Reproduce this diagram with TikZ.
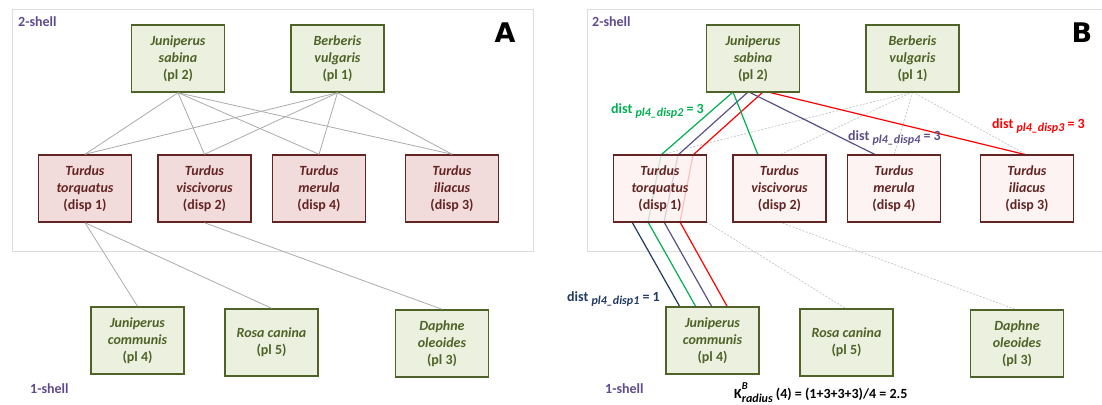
\documentclass[tikz,border=0pt]{standalone}
\usepackage{fontspec}
\setmainfont{Carlito}
\newfontfamily\letterfont{DejaVu Sans}
\usetikzlibrary{calc}
\definecolor{plantFill}{HTML}{EBF1DE}
\definecolor{plantDraw}{HTML}{4F6228}
\definecolor{plantText}{HTML}{4F6228}
\definecolor{birdFillA}{HTML}{F2DCDB}
\definecolor{birdFillB}{HTML}{FCF0F0}
\definecolor{birdDraw}{HTML}{632523}
\definecolor{birdText}{HTML}{632523}
\definecolor{shellC}{HTML}{5F4B8B}
\definecolor{edgeGray}{HTML}{ABABAB}
\definecolor{dashGray}{HTML}{C4C4C4}
\definecolor{frameGray}{HTML}{DCDCDC}
\definecolor{greenL}{HTML}{00B050}
\definecolor{purpleL}{HTML}{5C4F87}
\definecolor{redL}{HTML}{FF0000}
\definecolor{navyL}{HTML}{1F3864}
\tikzset{
  boxfont/.style={font=\fontsize{14}{17}\selectfont\bfseries},
  plantbox/.style={boxfont, draw=plantDraw, line width=1.5pt, fill=plantFill, minimum width=93pt, minimum height=67pt, inner sep=0pt, align=center, text=plantText},
  birdboxA/.style={boxfont, draw=birdDraw, line width=1.5pt, fill=birdFillA, minimum width=93pt, minimum height=67pt, inner sep=0pt, align=center, text=birdText},
  birdboxB/.style={birdboxA, fill=birdFillB, fill opacity=0.8, text opacity=1},
  grayedge/.style={draw=edgeGray, line width=0.8pt},
  dashedge/.style={draw=dashGray, line width=0.7pt, dash pattern=on 2pt off 1.5pt},
  pathline/.style={line width=1.2pt},
  framebox/.style={draw=frameGray, line width=0.8pt},
  shelllabel/.style={anchor=base west, text=shellC, font=\fontsize{14}{17}\selectfont\bfseries, inner sep=0pt},
  panelletter/.style={font=\letterfont\bfseries\fontsize{27}{27}\selectfont, inner sep=0pt},
  distlabel/.style={anchor=base west, inner sep=0pt, font=\fontsize{14}{17}\selectfont\bfseries}
}
\newcommand{\distsub}[1]{\raisebox{-0.5ex}{\fontsize{12}{14}\selectfont\itshape #1}}
\begin{document}
\begin{tikzpicture}[x=1pt,y=-1pt]
\path[use as bounding box] (0,0) rectangle (1102,404);
\clip (0,0) rectangle (1102,404);
% frames
\draw[framebox] (12,9) rectangle (533,251);
\draw[framebox] (587,9) rectangle (1110,251);
% ===== Panel A nodes
\node[plantbox] (jsA) at (178,58.5) {\textit{Juniperus}\\\textit{sabina}\\(pl 2)};
\node[plantbox] (bvA) at (337.5,58.5) {\textit{Berberis}\\\textit{vulgaris}\\(pl 1)};
\node[birdboxA] (ttA) at (85,188.5) {\textit{Turdus}\\\textit{torquatus}\\(disp 1)};
\node[birdboxA] (tvA) at (204.5,188.5) {\textit{Turdus}\\\textit{viscivorus}\\(disp 2)};
\node[birdboxA] (tmA) at (319,188.5) {\textit{Turdus}\\\textit{merula}\\(disp 4)};
\node[birdboxA] (tiA) at (452,188.5) {\textit{Turdus}\\\textit{iliacus}\\(disp 3)};
\node[plantbox] (jcA) at (137.5,340.5) {\textit{Juniperus}\\\textit{communis}\\(pl 4)};
\node[plantbox] (rcA) at (271.5,342.5) {\textit{Rosa canina}\\(pl 5)};
\node[plantbox] (doA) at (442,343.5) {\textit{Daphne}\\\textit{oleoides}\\(pl 3)};
% Panel A edges
\draw[grayedge] (jsA.south) -- (ttA.north);
\draw[grayedge] (jsA.south) -- (tvA.north);
\draw[grayedge] (jsA.south) -- (tmA.north);
\draw[grayedge] (jsA.south) -- (tiA.north);
\draw[grayedge] (bvA.south) -- (ttA.north);
\draw[grayedge] (bvA.south) -- (tvA.north);
\draw[grayedge] (bvA.south) -- (tmA.north);
\draw[grayedge] (bvA.south) -- (tiA.north);
\draw[grayedge] (ttA.south) -- (jcA.north);
\draw[grayedge] (ttA.south) -- (rcA.north);
\draw[grayedge] (tvA.south) -- (doA.north);
\node[shelllabel] (s2A) at (18,27) {2-shell};
\node[shelllabel] (s1A) at (30,393) {1-shell};
\node[panelletter] (letA) at (505,33) {A};
% ===== Panel B anchor coordinates (nodes drawn after lines)
\coordinate (jsBs) at (753,92);
\coordinate (bvBs) at (912.5,92);
\coordinate (ttBn) at (660,155);
\coordinate (ttBs) at (660,222);
\coordinate (ttBse) at (706.5,222);
\coordinate (tvBn) at (779.5,155);
\coordinate (tvBs) at (779.5,222);
\coordinate (tmBn) at (894,155);
\coordinate (tiBn) at (1027,155);
\coordinate (jcBn) at (712.5,307);
\coordinate (rcBn) at (846.5,309);
\coordinate (doBn) at (1017,310);
% dashed edges
\draw[dashedge] (bvBs) -- (ttBn);
\draw[dashedge] (bvBs) -- (tvBn);
\draw[dashedge] (bvBs) -- (tmBn);
\draw[dashedge] (bvBs) -- (tiBn);
\draw[dashedge] (ttBse) -- (rcBn);
\draw[dashedge] (tvBs) -- (doBn);
% coloured paths
\draw[pathline, draw=greenL] ([xshift=-20pt]jsBs) -- ([xshift=1pt]ttBn) -- ([xshift=-12pt]ttBs) -- ([xshift=-16.5pt]jcBn);
\draw[pathline, draw=purpleL] ([xshift=-5pt]jsBs) -- ([xshift=18pt]ttBn) -- ([xshift=4pt]ttBs) -- ([xshift=-0.5pt]jcBn);
\draw[pathline, draw=redL] ([xshift=10pt]jsBs) -- ([xshift=33pt]ttBn) -- ([xshift=20pt]ttBs) -- ([xshift=15pt]jcBn);
\draw[pathline, draw=navyL] ([xshift=-28pt]ttBs) -- ([xshift=-32.5pt]jcBn);
\draw[pathline, draw=greenL] ([xshift=-20pt]jsBs) -- ([xshift=-21.5pt]tvBn);
\draw[pathline, draw=purpleL] ([xshift=-4pt]jsBs) -- ([xshift=-18pt]tmBn);
\draw[pathline, draw=redL] ([xshift=15pt]jsBs) -- (tiBn);
% Panel B nodes
\node[plantbox] (jsB) at (753,58.5) {\textit{Juniperus}\\\textit{sabina}\\(pl 2)};
\node[plantbox] (bvB) at (912.5,58.5) {\textit{Berberis}\\\textit{vulgaris}\\(pl 1)};
\node[birdboxB] (ttB) at (660,188.5) {\textit{Turdus}\\\textit{torquatus}\\(disp 1)};
\node[birdboxB] (tvB) at (779.5,188.5) {\textit{Turdus}\\\textit{viscivorus}\\(disp 2)};
\node[birdboxB] (tmB) at (894,188.5) {\textit{Turdus}\\\textit{merula}\\(disp 4)};
\node[birdboxB] (tiB) at (1027,188.5) {\textit{Turdus}\\\textit{iliacus}\\(disp 3)};
\node[plantbox] (jcB) at (712.5,340.5) {\textit{Juniperus}\\\textit{communis}\\(pl 4)};
\node[plantbox] (rcB) at (846.5,342.5) {\textit{Rosa canina}\\(pl 5)};
\node[plantbox] (doB) at (1017,343.5) {\textit{Daphne}\\\textit{oleoides}\\(pl 3)};
\node[shelllabel] (s2B) at (592,27) {2-shell};
\node[shelllabel] (s1B) at (605,393) {1-shell};
\node[panelletter] (letB) at (1082,33) {B};
% dist labels
\node[distlabel, text=greenL] (dg) at (611,113) {dist \distsub{pl4\_disp2} = 3};
\node[distlabel, text=purpleL] (dp) at (848,140) {dist \distsub{pl4\_disp4} = 3};
\node[distlabel, text=redL] (dr) at (992,128) {dist \distsub{pl4\_disp3} = 3};
\node[distlabel, text=navyL] (dn) at (567,301) {dist \distsub{pl4\_disp1} = 1};
\node[distlabel, text=black] (kf) at (734,398) {K\rlap{\raisebox{1.3ex}{\fontsize{10.5}{12}\selectfont\itshape B}}\raisebox{-0.6ex}{\fontsize{12}{14}\selectfont\itshape radius} (4) = (1+3+3+3)/4 = 2.5};
\end{tikzpicture}
\end{document}
